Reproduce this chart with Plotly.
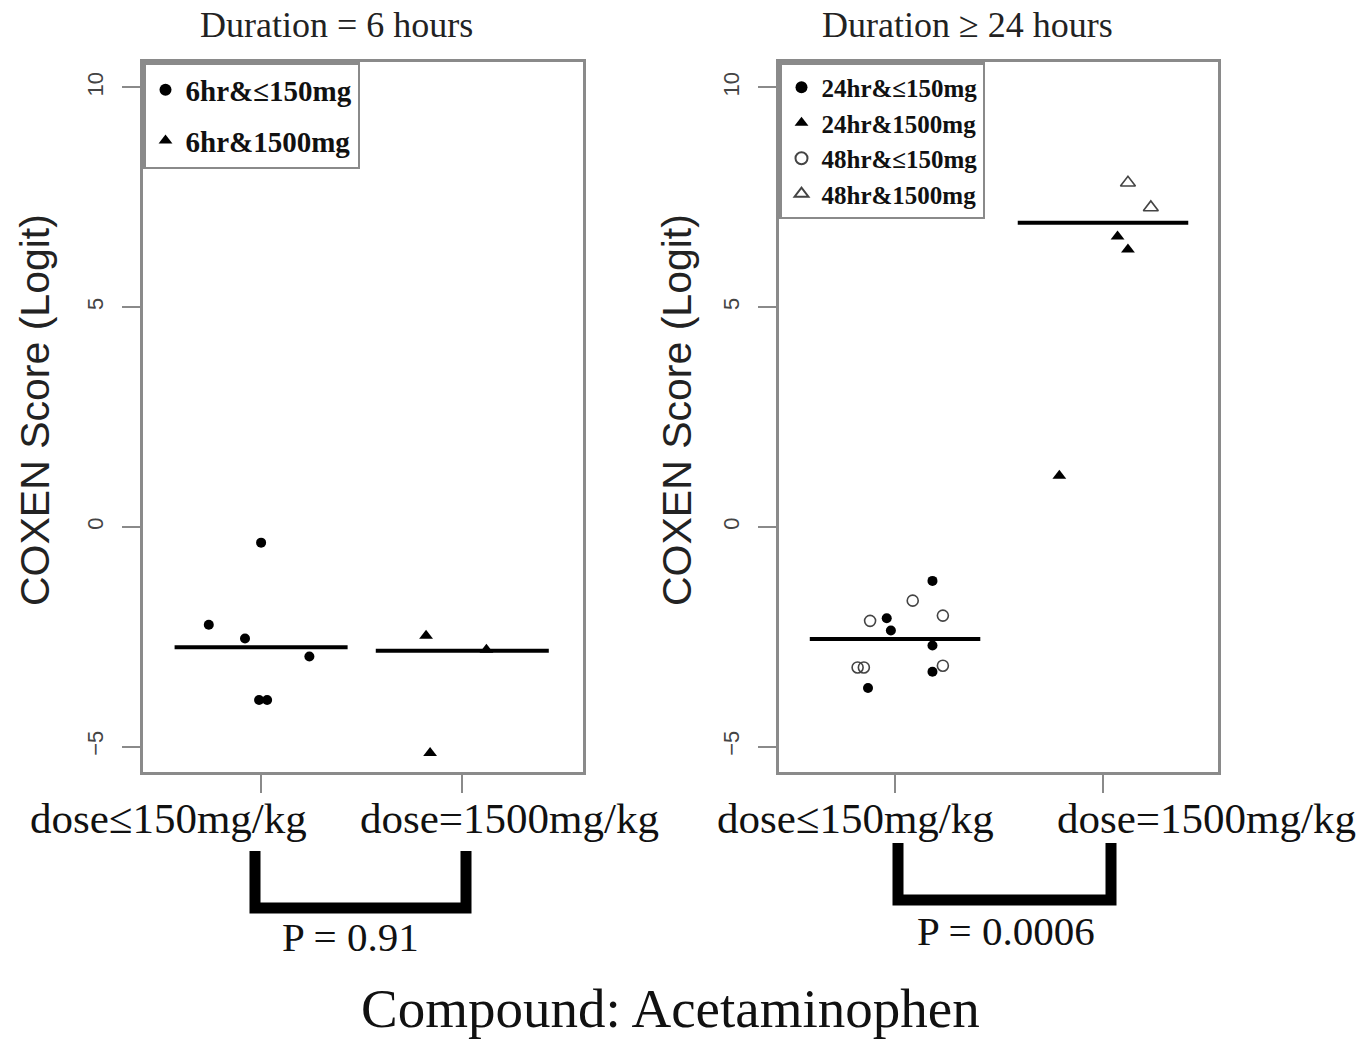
import plotly.graph_objects as go

W, H = 1371, 1040

def px(x):
    return x / W

def py(y):
    return 1 - y / H

# ---------------- data ----------------
categories = ["dose≤150mg/kg", "dose=1500mg/kg"]
cat_pos = [1, 2]

# Left panel: duration = 6 hours
hr6_low_x = [0.74, 0.92, 1.00, 1.24, 0.99, 1.03]
hr6_low_y = [-2.23, -2.54, -0.36, -2.95, -3.94, -3.94]
hr6_high_x = [1.82, 2.12, 1.84]
hr6_high_y = [-2.48, -2.80, -5.15]
left_medians = [-2.74, -2.82]

# Right panel: duration >= 24 hours
hr24_low_x = [1.18, 0.96, 0.98, 1.18, 1.18, 0.87]
hr24_low_y = [-1.23, -2.08, -2.36, -2.70, -3.30, -3.67]
hr48_low_x = [1.085, 1.23, 0.88, 0.82, 0.85, 1.23]
hr48_low_y = [-1.68, -2.02, -2.14, -3.20, -3.20, -3.16]
hr24_high_x = [2.07, 2.12, 1.79]
hr24_high_y = [6.61, 6.31, 1.16]
hr48_high_x = [2.12, 2.23]
hr48_high_y = [7.83, 7.27]
right_medians = [-2.55, 6.92]

y_ticks = [-5, 0, 5, 10]
p_values = ["P = 0.91", "P = 0.0006"]
panel_titles = ["Duration = 6 hours", "Duration ≥ 24 hours"]

# ---------------- figure ----------------
fig = go.Figure()

SERIF = "Liberation Serif"
SANS = "Liberation Sans"

# left panel points
fig.add_trace(go.Scatter(x=hr6_low_x, y=hr6_low_y, mode="markers", name="6hr&≤150mg",
                         marker=dict(symbol="circle", size=10, color="black"),
                         xaxis="x", yaxis="y", legend="legend", legendgroup="a"))
fig.add_trace(go.Scatter(x=hr6_high_x, y=hr6_high_y, mode="markers", name="6hr&1500mg",
                         marker=dict(symbol="triangle-up", size=12, color="black"),
                         xaxis="x", yaxis="y", legend="legend", legendgroup="b"))

# right panel points
fig.add_trace(go.Scatter(x=hr24_low_x, y=hr24_low_y, mode="markers", name="24hr&≤150mg",
                         marker=dict(symbol="circle", size=10, color="black"),
                         xaxis="x2", yaxis="y2", legend="legend2", legendgroup="c"))
fig.add_trace(go.Scatter(x=hr24_high_x, y=hr24_high_y, mode="markers", name="24hr&1500mg",
                         marker=dict(symbol="triangle-up", size=12, color="black"),
                         xaxis="x2", yaxis="y2", legend="legend2", legendgroup="d"))
fig.add_trace(go.Scatter(x=hr48_low_x, y=hr48_low_y, mode="markers", name="48hr&≤150mg",
                         marker=dict(symbol="circle-open", size=11, color="#444", line=dict(width=1.6)),
                         xaxis="x2", yaxis="y2", legend="legend2", legendgroup="e"))
fig.add_trace(go.Scatter(x=hr48_high_x, y=hr48_high_y, mode="markers", name="48hr&1500mg",
                         marker=dict(symbol="triangle-up-open", size=13, color="#444", line=dict(width=1.6)),
                         xaxis="x2", yaxis="y2", legend="legend2", legendgroup="f"))

# median lines
HW_L, HW_R = 0.43, 0.41
for c, m in zip(cat_pos, left_medians):
    fig.add_trace(go.Scatter(x=[c - HW_L, c + HW_L], y=[m, m], mode="lines",
                             line=dict(color="black", width=4), showlegend=False,
                             xaxis="x", yaxis="y", hoverinfo="skip"))
for c, m in zip(cat_pos, right_medians):
    fig.add_trace(go.Scatter(x=[c - HW_R, c + HW_R], y=[m, m], mode="lines",
                             line=dict(color="black", width=4), showlegend=False,
                             xaxis="x2", yaxis="y2", hoverinfo="skip"))

frame = "#8a8a8a"
common_x = dict(showline=True, linecolor=frame, linewidth=2.5, mirror=True,
                showgrid=False, zeroline=False, tickmode="array", tickvals=cat_pos,
                showticklabels=False, ticks="outside", ticklen=18, tickwidth=2,
                tickcolor=frame, fixedrange=True)
common_y = dict(showline=True, linecolor=frame, linewidth=2.5, mirror=True,
                showgrid=False, zeroline=False, tickmode="array", tickvals=y_ticks,
                ticks="outside", ticklen=18, tickwidth=2, tickcolor=frame,
                tickangle=-90, ticklabelstandoff=10,
                tickfont=dict(family=SANS, size=22, color="#444"),
                range=[-5.58, 10.58], fixedrange=True)

Y0, Y1 = py(772), py(62)

fig.update_layout(
    width=W, height=H,
    margin=dict(l=0, r=0, t=0, b=0),
    paper_bgcolor="white", plot_bgcolor="white",
    xaxis=dict(domain=[px(143), px(583)], range=[0.413, 2.60], anchor="y", **common_x),
    yaxis=dict(domain=[Y0, Y1], anchor="x", **common_y),
    xaxis2=dict(domain=[px(779), px(1218)], range=[0.442, 2.553], anchor="y2", **common_x),
    yaxis2=dict(domain=[Y0, Y1], anchor="x2", **common_y),
    legend=dict(x=px(143), y=Y1, xanchor="left", yanchor="top",
                bordercolor=frame, borderwidth=2.5, bgcolor="white",
                font=dict(family=SERIF, size=29, color="#111", weight="bold"),
                traceorder="grouped", tracegroupgap=10, itemsizing="constant"),
    legend2=dict(x=px(779), y=Y1, xanchor="left", yanchor="top",
                 bordercolor=frame, borderwidth=2.5, bgcolor="white",
                 font=dict(family=SERIF, size=25, color="#111", weight="bold"),
                 traceorder="grouped", tracegroupgap=0, itemsizing="constant"),
    showlegend=True,
)

def note(text, x, y, size, family=SERIF, color="#111", angle=0):
    return dict(text=text, x=px(x), y=py(y), xref="paper", yref="paper",
                xanchor="center", yanchor="middle", showarrow=False, textangle=angle,
                font=dict(family=family, size=size, color=color))

ann = []
ann.append(note(panel_titles[0], 336, 25, 36, color="#222"))
ann.append(note(panel_titles[1], 967, 25, 36, color="#222"))
for xc in (35, 677):
    ann.append(note("COXEN Score (Logit)", xc, 410, 41, family=SANS, color="#222", angle=-90))
for xc, label in zip((168, 509, 855, 1206), categories * 2):
    ann.append(note(label, xc, 818, 43))
ann.append(note(p_values[0], 350, 937, 41))
ann.append(note(p_values[1], 1006, 931, 41))
ann.append(note("Compound: Acetaminophen", 670, 1008, 55))
fig.update_layout(annotations=ann)

# significance brackets
shapes = []
brackets = [(255, 466, 851, 908), (898, 1111, 843, 900)]
for x0, x1, ytop, ybot in brackets:
    shapes.append(dict(type="path", xref="paper", yref="paper",
                       path=f"M {px(x0)} {py(ytop)} L {px(x0)} {py(ybot)} L {px(x1)} {py(ybot)} L {px(x1)} {py(ytop)}",
                       line=dict(color="black", width=11)))
fig.update_layout(shapes=shapes)

fig.write_html("out.html", config={"displayModeBar": False},
               post_script="document.body.style.margin='0';")
